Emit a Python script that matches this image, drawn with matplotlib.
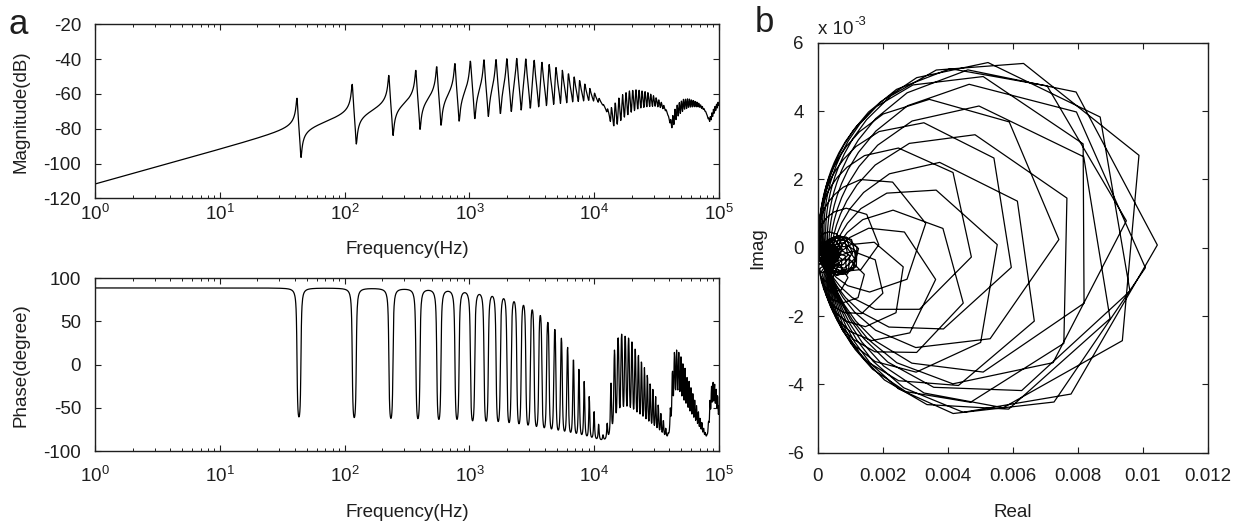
import numpy as np
import matplotlib.pyplot as plt
from matplotlib.ticker import LogLocator, FixedLocator, FixedFormatter, NullFormatter

plt.rcParams['font.family'] = ['Liberation Sans', 'DejaVu Sans']
plt.rcParams['mathtext.default'] = 'regular'
plt.rcParams['axes.unicode_minus'] = False
plt.rcParams['axes.linewidth'] = 1.0

# modal data: resonance frequencies (Hz) and loop diameters (dB)
mode_freq_hz = [41.5, 115, 226, 372, 547, 765, 1018, 1308, 1634, 1996,
                2394, 2828, 3299, 3806, 4349, 4928, 5543, 6195, 6883, 7607,
                8367, 9163, 9996, 10865, 11770, 12711, 13688, 14702, 15752, 16838,
                17960, 19118, 20313, 21544, 22811, 24114, 25453, 26829, 28241, 29689,
                31173, 32693, 34250, 35843, 37472, 39137, 40838, 42576, 44350, 46160,
                48006, 49888, 51807, 53762, 55753, 57780, 59843, 61943, 64079, 66251,
                68459, 70703, 72984, 75301, 77654, 80043, 82468, 84930, 87428, 89962,
                92532, 95138, 97781, 100460]
mode_peak_db = [-62.5, -54.5, -49.5, -46.3, -44.2, -42.6, -41.1, -40.5, -40.1, -39.7,
                -39.7, -40, -40.7, -41.8, -43.3, -45, -47, -49, -51.5, -54,
                -57, -61, -66, -73, -85, -79, -70.5, -66, -63, -61,
                -60, -59, -58.5, -58.5, -59, -59.5, -60.5, -61.5, -63, -64.5,
                -66.5, -69, -72, -76, -83, -95, -82, -75, -70.5, -68,
                -66.5, -65.5, -65, -65, -65.5, -66, -67, -68, -69.5, -71,
                -73, -75.5, -78.5, -82.5, -89, -100, -86, -79, -75, -72.5,
                -71, -70, -69.5, -69.5]
loss_factor = 0.02
n_points = 2000

freq = np.logspace(0, 5, n_points)
w = 2 * np.pi * freq
wn = 2 * np.pi * np.array(mode_freq_hz)
amp = 10 ** (np.array(mode_peak_db) / 20) * loss_factor * wn
H = (1j * w[:, None] * amp[None, :]
     / (wn ** 2 - w[:, None] ** 2 + 1j * loss_factor * wn ** 2)).sum(axis=1)

mag_db = 20 * np.log10(np.abs(H))
phase_deg = np.angle(H, deg=True)

fig = plt.figure(figsize=(12.49, 5.22), dpi=100)
ax_mag = fig.add_axes([0.0761, 0.6201, 0.4996, 0.3333])
ax_ph = fig.add_axes([0.0761, 0.136, 0.4996, 0.3308])
ax_ny = fig.add_axes([0.6547, 0.1328, 0.3122, 0.7854])

lw = 0.9
fs = 13.5
ink = '#1e1e1e'


def style(ax, xpad):
    ax.tick_params(which='both', direction='in', top=True, right=True,
                   labelsize=fs, colors=ink)
    ax.tick_params(which='major', length=4.5, width=0.8)
    ax.tick_params(which='minor', length=2.5, width=0.7)
    ax.tick_params(axis='x', which='major', pad=xpad)
    ax.tick_params(axis='y', which='major', pad=10)
    for s in ax.spines.values():
        s.set_color(ink)


for ax, y, lo, hi, step, lab, xpad, lpad in [
        (ax_mag, mag_db, -120, -20, 20, 'Magnitude(dB)', 4, 12),
        (ax_ph, phase_deg, -100, 100, 50, 'Phase(degree)', 11, 13)]:
    ax.semilogx(freq, y, color='k', lw=lw)
    ax.set_xlim(1, 1e5)
    ax.set_ylim(lo, hi)
    ax.set_yticks(np.arange(lo, hi + 1, step))
    ax.xaxis.set_major_locator(LogLocator(base=10, numticks=10))
    ax.xaxis.set_minor_locator(LogLocator(base=10, subs=np.arange(2, 10), numticks=20))
    ax.xaxis.set_minor_formatter(NullFormatter())
    ax.set_xlabel('Frequency(Hz)', fontsize=fs, labelpad=lpad, color=ink)
    ax.set_ylabel(lab, fontsize=fs, labelpad=10, color=ink)
    style(ax, xpad)

ax_ny.plot(H.real, H.imag, color='k', lw=lw)
ax_ny.set_xlim(0, 0.012)
ax_ny.set_ylim(-0.006, 0.006)
ax_ny.xaxis.set_major_locator(FixedLocator(np.arange(0, 0.0121, 0.002)))
ax_ny.xaxis.set_major_formatter(FixedFormatter(['0', '0.002', '0.004', '0.006', '0.008', '0.01', '0.012']))
ax_ny.yaxis.set_major_locator(FixedLocator(np.arange(-0.006, 0.0061, 0.002)))
ax_ny.yaxis.set_major_formatter(FixedFormatter(['-6', '-4', '-2', '0', '2', '4', '6']))
ax_ny.set_xlabel('Real', fontsize=fs, labelpad=14, color=ink)
ax_ny.set_ylabel('Imag', fontsize=fs, labelpad=15, color=ink)
style(ax_ny, 11)

# MATLAB-style exponent note above the Nyquist axes
note = ax_ny.text(0.0, 1.012, 'x 10', transform=ax_ny.transAxes, fontsize=fs,
                  ha='left', va='bottom', color=ink)
ax_ny.annotate('-3', xy=(1, 0.55), xycoords=note, xytext=(0.5, 0),
               textcoords='offset points', fontsize=fs * 0.7,
               ha='left', va='bottom', color=ink)

fig.text(0.007, 0.985, 'a', fontsize=25, va='top', ha='left', color=ink)
fig.text(0.604, 0.988, 'b', fontsize=25, va='top', ha='left', color=ink)

fig.savefig('out.png', dpi=100)
